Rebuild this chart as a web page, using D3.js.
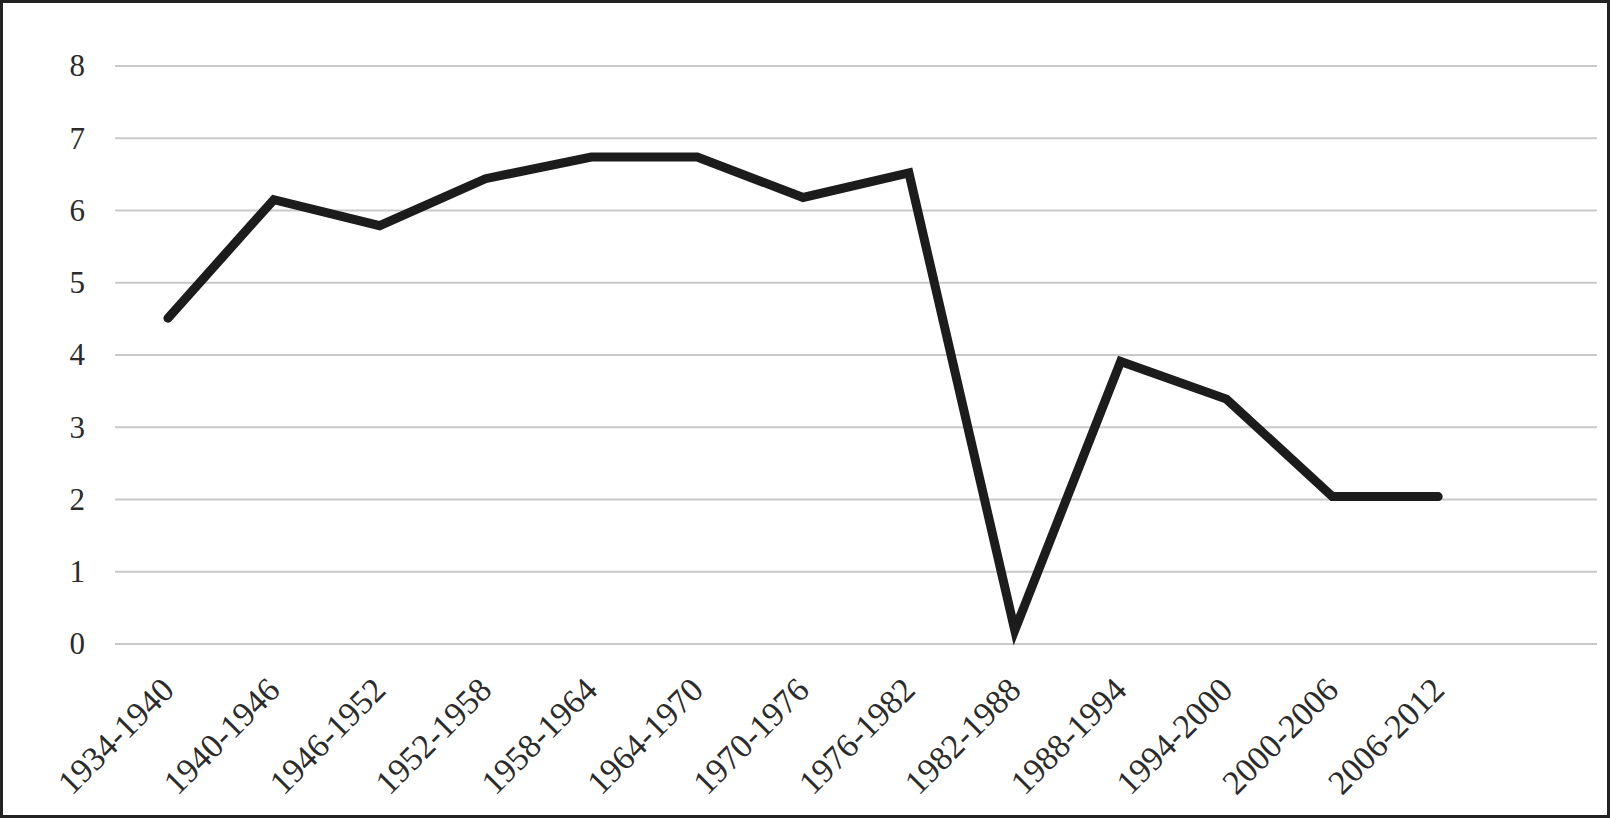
<!DOCTYPE html>
<html>
<head>
<meta charset="utf-8">
<script src="https://cdn.jsdelivr.net/npm/d3@7"></script>
<style>
    body { margin: 0; background: #fff; }
    svg { display: block; }
    .tick text { font-family: "Liberation Serif", "DejaVu Serif", serif; fill: #2b2b2b; }
</style>
</head>
<body>
<div id="chart"></div>
<script>
// data
var periods = ['1934-1940', '1940-1946', '1946-1952', '1952-1958', '1958-1964', '1964-1970',
    '1970-1976', '1976-1982', '1982-1988', '1988-1994', '1994-2000', '2000-2006', '2006-2012'];
var values = [4.51, 6.15, 5.79, 6.44, 6.74, 6.74, 6.18, 6.52, 0.19, 3.91, 3.39, 2.04, 2.04];
var yTicks = [0, 1, 2, 3, 4, 5, 6, 7, 8];

var svgWidth = 1610, svgHeight = 818;
var margin = {top: 66, right: 13, bottom: 174, left: 115};
var width = svgWidth - margin.left - margin.right;
var height = svgHeight - margin.top - margin.bottom;

var svg = d3.select('#chart').append('svg')
    .attr('width', svgWidth).attr('height', svgHeight);

// outer frame
svg.append('rect')
    .attr('x', 1.5).attr('y', 1.5)
    .attr('width', svgWidth - 3).attr('height', svgHeight - 3)
    .attr('fill', 'none').attr('stroke', '#222').attr('stroke-width', 3);

var g = svg.append('g')
    .attr('transform', 'translate(' + margin.left + ' ' + margin.top + ')');

// x scale -- plot area holds 14 category slots, data fills first 13
var x = d3.scaleBand()
    .domain(periods)
    .range([0, width * 13 / 14]);

var y = d3.scaleLinear()
    .domain([0, 8])
    .range([height, 0]);

// gridlines
g.append('g')
    .attr('class', 'grid')
    .selectAll('line')
    .data(yTicks).enter().append('line')
    .attr('x1', 0).attr('x2', width)
    .attr('y1', function(d) { return y(d); })
    .attr('y2', function(d) { return y(d); })
    .attr('stroke', '#c9c9c9').attr('stroke-width', 2);

// y axis
var yAxis = g.append('g')
    .attr('class', 'y axis')
    .call(d3.axisLeft(y).tickValues(yTicks).tickSize(0).tickPadding(30).tickFormat(d3.format('d')));
yAxis.select('.domain').remove();
yAxis.selectAll('text').attr('font-size', '31px');

// x axis
var xAxis = g.append('g')
    .attr('class', 'x axis')
    .attr('transform', 'translate(0 ' + height + ')')
    .call(d3.axisBottom(x).tickSize(0));
xAxis.select('.domain').remove();
xAxis.selectAll('text')
    .attr('font-size', '34px')
    .attr('text-anchor', 'end')
    .attr('y', 0).attr('dy', 0)
    .attr('transform', 'translate(8 48) rotate(-45)');

// line
var line = d3.line()
    .x(function(d, i) { return x(periods[i]) + x.bandwidth() / 2; })
    .y(function(d) { return y(d); });

g.append('path')
    .datum(values)
    .attr('fill', 'none')
    .attr('stroke', '#1c1c1c')
    .attr('stroke-width', 9)
    .attr('stroke-linejoin', 'miter')
    .attr('stroke-linecap', 'round')
    .attr('d', line);
</script>
</body>
</html>
